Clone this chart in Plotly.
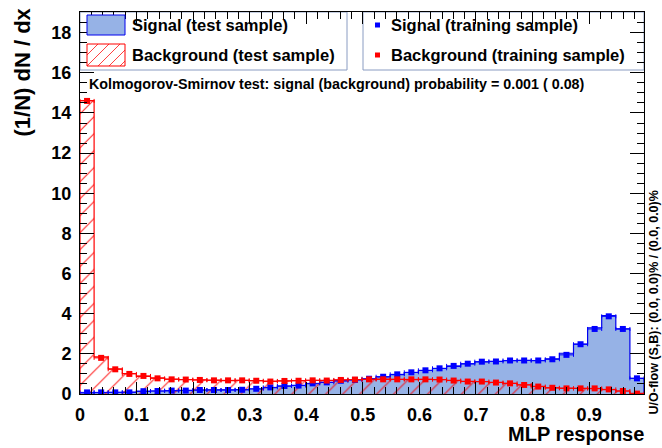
import numpy as np
import plotly.graph_objects as go

# ---------------- data ----------------
x_min, x_max = 0.0, 0.997
n_bins = 40

sig_train = [0.08, 0.08, 0.08, 0.08, 0.14, 0.15, 0.17, 0.17, 0.20, 0.20,
             0.20, 0.21, 0.26, 0.33, 0.40, 0.42, 0.53, 0.58, 0.66, 0.70,
             0.76, 0.86, 0.98, 1.08, 1.18, 1.28, 1.40, 1.51, 1.61, 1.62,
             1.67, 1.67, 1.67, 1.73, 1.95, 2.48, 3.24, 3.87, 3.24, 0.78]
sig_test = [0.06, 0.07, 0.08, 0.09, 0.13, 0.15, 0.16, 0.18, 0.19, 0.21,
            0.21, 0.22, 0.25, 0.32, 0.39, 0.43, 0.51, 0.58, 0.65, 0.71,
            0.74, 0.85, 0.97, 1.07, 1.17, 1.27, 1.38, 1.50, 1.60, 1.63,
            1.66, 1.68, 1.66, 1.75, 2.03, 2.48, 3.30, 3.90, 3.24, 0.78]
bkg_train = [14.60, 1.80, 1.23, 1.00, 0.90, 0.78, 0.73, 0.72, 0.70, 0.68,
             0.68, 0.68, 0.66, 0.62, 0.65, 0.66, 0.68, 0.67, 0.70, 0.72,
             0.73, 0.73, 0.73, 0.73, 0.73, 0.72, 0.67, 0.62, 0.62, 0.57,
             0.53, 0.45, 0.37, 0.31, 0.28, 0.28, 0.28, 0.23, 0.15, 0.02]
bkg_test = [14.62, 1.85, 1.25, 1.02, 0.88, 0.80, 0.74, 0.71, 0.70, 0.69,
            0.67, 0.68, 0.67, 0.64, 0.65, 0.67, 0.68, 0.68, 0.70, 0.72,
            0.73, 0.74, 0.73, 0.72, 0.73, 0.71, 0.68, 0.63, 0.61, 0.58,
            0.53, 0.46, 0.38, 0.31, 0.29, 0.28, 0.27, 0.22, 0.15, 0.03]

y_max = 19.03
x_ticks_major, x_ticks_minor = 0.1, 0.02
y_ticks_major, y_ticks_minor = 2, 0.5

legend_labels = ["Signal (test sample)", "Background (test sample)",
                 "Signal (training sample)", "Background (training sample)"]
ks_text = "Kolmogorov-Smirnov test: signal (background) probability = 0.001 ( 0.08)"
uoflow_text = "U/O-flow (S,B): (0.0, 0.0)% / (0.0, 0.0)%"
x_title = "MLP response"
y_title = "(1/N) dN / dx"

# ---------------- derived ----------------
edges = np.linspace(x_min, x_max, n_bins + 1)
centers = 0.5 * (edges[:-1] + edges[1:])
half_w = 0.5 * (edges[1] - edges[0])


def step(vals):
    xs = [edges[0]] + list(edges[:-1]) + [edges[-1], edges[-1]]
    ys = [0.0] + list(vals) + [vals[-1], 0.0]
    return xs, ys


FONT = "Liberation Sans"
SIG_FILL = "#96b2e6"
SIG_LINE = "#0000ee"
BLUE = "#0000ff"
RED = "#ff0000"

# plot-area pixel geometry
L, R, T, B = 80, 18, 12, 54
W, H = 662, 448
PW, PH = W - L - R, H - T - B


def px(x):
    return (x - L) / PW


def py(y):
    return (H - B - y) / PH


fig = go.Figure()

sx, sy = step(sig_test)
fig.add_trace(go.Scatter(x=sx, y=sy, mode="lines", line=dict(color=SIG_LINE, width=1.2, shape="hv"),
                         fill="tozeroy", fillcolor=SIG_FILL, hoverinfo="skip", showlegend=False))
bx, by = step(bkg_test)
fig.add_trace(go.Scatter(x=bx, y=by, mode="lines", line=dict(color=RED, width=1.2, shape="hv"),
                         fill="tozeroy", fillcolor="rgba(0,0,0,0)",
                         fillpattern=dict(shape="/", fgcolor="rgba(255,0,0,0.8)", bgcolor="rgba(0,0,0,0)",
                                          size=12, solidity=0.1, fillmode="replace"),
                         hoverinfo="skip", showlegend=False))

for vals, col in ((sig_train, BLUE), (bkg_train, RED)):
    fig.add_trace(go.Scatter(
        x=centers, y=vals, mode="markers",
        marker=dict(symbol="square", size=6, color=col, line=dict(width=0)),
        error_x=dict(type="constant", value=half_w, color=col, thickness=1, width=2),
        showlegend=False))

# ---------------- legend boxes ----------------
shapes = []
box_col = "#8a9cc2"
shapes.append(dict(type="rect", xref="paper", yref="paper", x0=px(80), x1=px(347), y0=py(70), y1=py(12),
                   line=dict(color=box_col, width=1), fillcolor="white", layer="below"))
shapes.append(dict(type="rect", xref="paper", yref="paper", x0=px(363), x1=px(644), y0=py(70), y1=py(12),
                   line=dict(color=box_col, width=1), fillcolor="white", layer="below"))
# signal swatch
shapes.append(dict(type="rect", xref="paper", yref="paper", x0=px(87), x1=px(125), y0=py(35), y1=py(15),
                   line=dict(color=SIG_LINE, width=1), fillcolor=SIG_FILL))
# background swatch with hatching
shapes.append(dict(type="rect", xref="paper", yref="paper", x0=px(87), x1=px(125), y0=py(66), y1=py(44),
                   line=dict(color=RED, width=1), fillcolor="rgba(0,0,0,0)"))
sw_x0, sw_x1, sw_y0, sw_y1 = 87, 125, 66, 44
for k in range(-2, 5):
    xa = sw_x0 + k * 11
    xb = xa + (sw_y0 - sw_y1)
    x0c, y0c = xa, sw_y0
    x1c, y1c = xb, sw_y1
    if x0c < sw_x0:
        y0c = sw_y0 - (sw_x0 - x0c)
        x0c = sw_x0
    if x1c > sw_x1:
        y1c = sw_y1 + (x1c - sw_x1)
        x1c = sw_x1
    if x1c <= x0c:
        continue
    shapes.append(dict(type="line", xref="paper", yref="paper", x0=px(x0c), y0=py(y0c), x1=px(x1c), y1=py(y1c),
                       line=dict(color="rgba(255,0,0,0.75)", width=1)))
# training markers in legend
for yc, col in ((25, BLUE), (55, RED)):
    shapes.append(dict(type="rect", xref="paper", yref="paper", x0=px(375), x1=px(380), y0=py(yc + 2.5),
                       y1=py(yc - 2.5), line=dict(width=0), fillcolor=col))

ann = []


def txt(t, x, y, size, xanchor="left", yanchor="middle", angle=0):
    ann.append(dict(text=t, x=px(x), y=py(y), xref="paper", yref="paper", showarrow=False,
                    xanchor=xanchor, yanchor=yanchor, textangle=angle, borderpad=0,
                    font=dict(family=FONT, size=size, color="black", weight="bold")))


txt(legend_labels[0], 131, 25, 16.5)
txt(legend_labels[1], 131, 55, 16.5)
txt(legend_labels[2], 390, 25, 16.5)
txt(legend_labels[3], 390, 55, 16.5)
txt(ks_text, 88, 84, 14.3)
txt(x_title, 645, 434, 20, xanchor="right")
txt(y_title, 22, 7, 22, xanchor="center", yanchor="top", angle=-90)
txt(uoflow_text, 653.5, 416, 12.5, xanchor="center", yanchor="bottom", angle=-90)

axis_common = dict(showline=True, linecolor="black", linewidth=1, mirror="ticks", ticks="inside",
                   tickcolor="black", tickwidth=1, showgrid=False, zeroline=False,
                   tickfont=dict(family=FONT, size=18, color="black", weight="bold"))

fig.update_layout(
    width=W, height=H, margin=dict(l=L, r=R, t=T, b=B),
    paper_bgcolor="white", plot_bgcolor="white", showlegend=False,
    xaxis=dict(range=[x_min, x_max], tick0=0, dtick=x_ticks_major, ticklen=12,
               minor=dict(dtick=x_ticks_minor, ticklen=7, ticks="inside", tickcolor="black", showgrid=False),
               ticklabelstandoff=4, **axis_common),
    yaxis=dict(range=[0, y_max], tick0=0, dtick=y_ticks_major, ticklen=14,
               minor=dict(dtick=y_ticks_minor, ticklen=7, ticks="inside", tickcolor="black", showgrid=False),
               ticklabelstandoff=4, **axis_common),
    shapes=shapes, annotations=ann,
)

fig.write_html("out.html")
